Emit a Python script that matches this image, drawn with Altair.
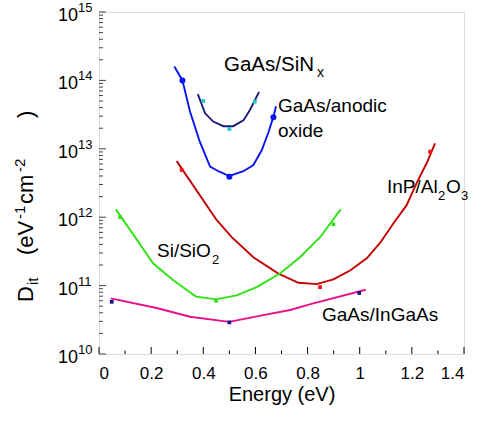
import altair as alt
import pandas as pd

# Interface state density D_it (eV^-1 cm^-2) versus energy (eV)
# Each system: a fitted curve plus measured points.
sinx_fit_e = [0.379, 0.407, 0.438, 0.477, 0.515, 0.554, 0.579, 0.614]
sinx_fit_d = [6.3e13, 3.3e13, 2.5e13, 2.14e13, 2.14e13, 2.6e13, 3.7e13, 6.8e13]
sinx_pts_e = [0.400, 0.500, 0.598]
sinx_pts_d = [5.0e13, 1.95e13, 4.9e13]

anodic_fit_e = [0.289, 0.320, 0.349, 0.387, 0.426, 0.458, 0.500, 0.554,
                0.592, 0.624, 0.649, 0.669, 0.679]
anodic_fit_d = [1.6e14, 1.0e14, 3.5e13, 1.26e13, 5.5e12, 4.7e12, 4.0e12,
                4.7e12, 5.8e12, 9.5e12, 1.7e13, 2.95e13, 4.2e13]
anodic_pts_e = [0.320, 0.500, 0.669]
anodic_pts_d = [1.0e14, 3.9e12, 2.9e13]

inp_fit_e = [0.298, 0.451, 0.509, 0.592, 0.688, 0.765, 0.835, 0.899, 0.963,
             1.027, 1.078, 1.129, 1.180, 1.219, 1.257, 1.289]
inp_fit_d = [6.6e12, 9.1e11, 5.1e11, 2.6e11, 1.5e11, 1.1e11, 1.05e11, 1.23e11,
             1.66e11, 2.5e11, 4.2e11, 8.1e11, 1.5e12, 3.2e12, 6.2e12, 1.2e13]
inp_pts_e = [0.317, 0.848, 1.270]
inp_pts_d = [4.9e12, 9.5e10, 9.1e12]

si_fit_e = [0.065, 0.208, 0.285, 0.372, 0.449, 0.528, 0.605, 0.694, 0.771,
            0.848, 0.927]
si_fit_d = [1.3e12, 2.1e11, 1.2e11, 6.9e10, 6.3e10, 7.2e10, 9.5e10, 1.5e11,
            2.6e11, 5.1e11, 1.3e12]
si_pts_e = [0.081, 0.449, 0.899]
si_pts_d = [1.0e12, 6.0e10, 7.9e11]

ingaas_fit_e = [0.045, 0.221, 0.349, 0.500, 0.630, 0.733, 0.822, 1.023]
ingaas_fit_d = [6.5e10, 4.7e10, 3.5e10, 2.95e10, 3.7e10, 4.4e10, 5.5e10, 8.7e10]
ingaas_pts_e = [0.049, 0.500, 0.998]
ingaas_pts_d = [5.8e10, 2.9e10, 7.8e10]

# Axis ticks and labels
x_major = [0, 0.2, 0.4, 0.6, 0.8, 1.0, 1.2, 1.4]
x_minor = [0.1, 0.3, 0.5, 0.7, 0.9, 1.1, 1.3]
y_decades = [1e10, 1e11, 1e12, 1e13, 1e14, 1e15]
y_exponents = ["10", "11", "12", "13", "14", "15"]
y_minor = [m * 10.0 ** k for k in range(10, 15) for m in range(2, 10)]

W, H = 365, 342
FONT = "Liberation Sans"

xs = alt.Scale(domain=[0, 1.4], nice=False, zero=False)
ys = alt.Scale(type="log", domain=[1e10, 1e15], nice=False)


def X(**kw):
    return alt.X("e:Q", scale=xs, **kw)


def Y():
    return alt.Y("d:Q", scale=ys, axis=None)


def curve(e, d, color):
    df = pd.DataFrame({"e": e, "d": d})
    return alt.Chart(df).mark_line(color=color, strokeWidth=1.9, clip=True).encode(
        x=X(), y=Y(), order=alt.Order("e:Q"))


def points(e, d, color, shape, size):
    df = pd.DataFrame({"e": e, "d": d})
    return alt.Chart(df).mark_point(
        shape=shape, size=size, filled=True, color=color, opacity=1
    ).encode(x=X(), y=Y())


def note(text, x, y, size=19, angle=0, align="left", baseline="alphabetic"):
    df = pd.DataFrame({"t": [text]})
    kw = dict(font=FONT, fontSize=size, align=align, baseline=baseline, color="black")
    if angle:
        kw["angle"] = angle
    return alt.Chart(df).mark_text(**kw).encode(
        text="t:N", x=alt.value(x), y=alt.value(y))


# x axis: labels and title from the scale, inward ticks drawn as rules
x_axis = alt.Chart(pd.DataFrame({"e": x_major})).mark_rule(
    color="black", strokeWidth=1).encode(
    x=X(axis=alt.Axis(values=x_major, format="~g", ticks=False, domain=False,
                      grid=False, labelFont=FONT, labelFontSize=17,
                      labelColor="black", labelPadding=11,
                      title="Energy (eV)", titleFont=FONT, titleFontSize=20,
                      titleFontWeight="normal", titleColor="black",
                      titlePadding=3)),
    y=alt.value(H), y2=alt.value(H - 7))
x_minor_ticks = alt.Chart(pd.DataFrame({"e": x_minor})).mark_rule(
    color="black", strokeWidth=1).encode(
    x=X(), y=alt.value(H), y2=alt.value(H - 3.5))

y_major_ticks = alt.Chart(pd.DataFrame({"d": y_decades})).mark_rule(
    color="#444", strokeWidth=1).encode(
    y=Y(), x=alt.value(0), x2=alt.value(7))
y_minor_ticks = alt.Chart(pd.DataFrame({"d": y_minor})).mark_rule(
    color="#444", strokeWidth=1).encode(
    y=Y(), x=alt.value(0), x2=alt.value(4))

ylab_df = pd.DataFrame({"d": y_decades, "p": y_exponents})
y_base = alt.Chart(ylab_df).mark_text(
    font=FONT, fontSize=18, align="right", baseline="middle", color="black", dy=4
).encode(y=Y(), x=alt.value(-21), text=alt.value("10"))
y_pow = alt.Chart(ylab_df).mark_text(
    font=FONT, fontSize=13, align="left", baseline="middle", color="black", dy=-4
).encode(y=Y(), x=alt.value(-21), text="p:N")

layers = [
    x_axis, x_minor_ticks, y_major_ticks, y_minor_ticks, y_base, y_pow,
    curve(sinx_fit_e, sinx_fit_d, "#1c1c78"),
    curve(anodic_fit_e, anodic_fit_d, "#0a14f0"),
    curve(inp_fit_e, inp_fit_d, "#c40000"),
    curve(si_fit_e, si_fit_d, "#2ee214"),
    curve(ingaas_fit_e, ingaas_fit_d, "#e6108a"),
    points(sinx_pts_e, sinx_pts_d, "#20c8c8", "square", 14),
    points(anodic_pts_e, anodic_pts_d, "#0a14f0", "circle", 36),
    points(inp_pts_e, inp_pts_d, "#ff1010", "square", 14),
    points(si_pts_e, si_pts_d, "#2ee214", "square", 14),
    points(ingaas_pts_e, ingaas_pts_d, "#14148c", "square", 14),
    # curve labels (pixel positions within the plot area)
    note("GaAs/SiN", 125, 59, size=20.5),
    note("x", 218, 65, size=14),
    note("GaAs/anodic", 179, 100),
    note("oxide", 179, 125),
    note("InP/Al", 288, 181),
    note("2", 339, 188, size=13),
    note("O", 347, 181),
    note("3", 362, 188, size=13),
    note("Si/SiO", 58, 245),
    note("2", 113, 252, size=13),
    note("GaAs/InGaAs", 223, 309),
    # rotated y-axis title
    note("D", -66, 290, size=22, angle=270),
    note("it", -61, 273, size=15, angle=270),
    note("(eV", -66, 243, size=22, angle=270),
    note("-1", -74, 207, size=15, angle=270),
    note("cm", -66, 192, size=22, angle=270),
    note("-2", -74, 160, size=15, angle=270),
    note(")", -66, 106, size=22, angle=270),
]

chart = alt.layer(*layers).properties(
    width=W, height=H,
    autosize=alt.AutoSizeParams(type="none"),
    padding={"left": 99, "top": 12, "right": 20, "bottom": 74},
).configure_view(stroke="#333", strokeWidth=1.3).configure(background="white")

chart.save("out.html", embed_options={"renderer": "svg", "actions": False})
